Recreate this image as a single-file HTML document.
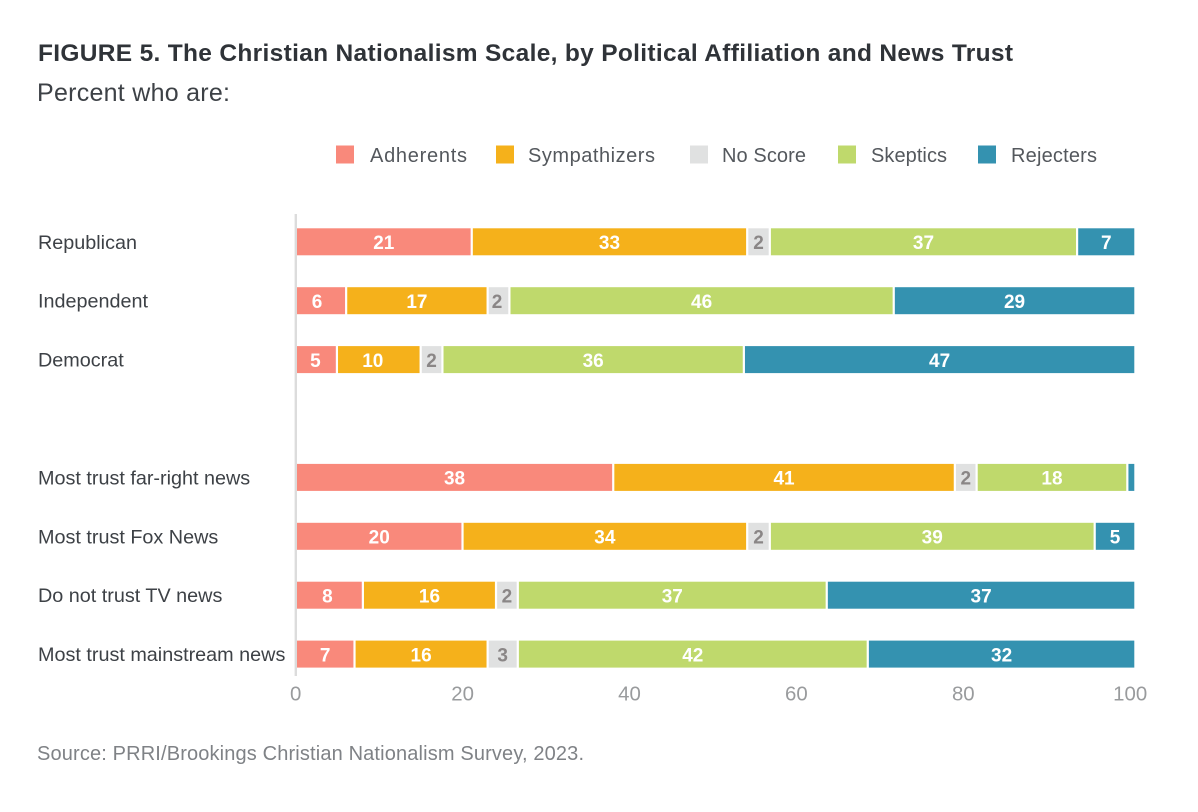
<!DOCTYPE html>
<html lang="en">
<head>
<meta charset="utf-8">
<title>Christian Nationalism Scale</title>
<style>
html,body{margin:0;padding:0;background:#fff;width:1198px;height:812px;overflow:hidden}
svg{display:block;font-family:"Liberation Sans",sans-serif}
.cat{font-size:19.8px;fill:#3d4146}
.leg{font-size:20px;fill:#54585d}
.tick{font-size:20.4px;fill:#999b9d;text-anchor:middle}
.val{font-size:19px;font-weight:bold;text-anchor:middle;fill:#fff}
.val-muted{fill:#8a8686}
</style>
</head>
<body>
<svg id="chart" width="1198" height="812" viewBox="0 0 1198 812">
<rect x="0" y="0" width="1198" height="812" fill="#fff"/>
<text x="38" y="61" font-size="24.5px" font-weight="bold" fill="#2f3338" textLength="975">FIGURE 5. The Christian Nationalism Scale, by Political Affiliation and News Trust</text>
<text x="37" y="101" font-size="25px" fill="#3d4146" textLength="193">Percent who are:</text>
<g id="legend"></g>
<g id="bars"></g>
<rect x="294.6" y="214" width="2.4" height="462" fill="#dcdcdc"/>
<g id="ticks"></g>
<text x="37" y="760" font-size="20px" fill="#7f8286" textLength="547">Source: PRRI/Brookings Christian Nationalism Survey, 2023.</text>
</svg>
<script>
const categories = ["Republican","Independent","Democrat","","Most trust far-right news","Most trust Fox News","Do not trust TV news","Most trust mainstream news"];
const seriesNames = ["Adherents","Sympathizers","No Score","Skeptics","Rejecters"];

// Drawn segment lengths
const adherents = [21.0,6.0,4.9,null,37.9,19.9,8.0,7.0];
const sympathizers = [32.9,16.9,10.0,null,40.8,34.0,15.9,15.9];
const noScore = [2.7,2.6,2.6,null,2.6,2.7,2.6,3.6];
const skeptics = [36.7,45.9,36.0,null,18.0,38.8,36.9,41.8];
const rejecters = [6.7,28.6,46.5,null,0.7,4.6,36.6,31.7];

// Printed value labels
const adherentsLabels = [21,6,5,null,38,20,8,7];
const sympathizersLabels = [33,17,10,null,41,34,16,16];
const noScoreLabels = [2,2,2,null,2,2,2,3];
const skepticsLabels = [37,46,36,null,18,39,37,42];
const rejectersLabels = [7,29,47,null,1,5,37,32];

const tickValues = [0,20,40,60,80,100];

const seriesValues = [adherents,sympathizers,noScore,skeptics,rejecters];
const seriesLabels = [adherentsLabels,sympathizersLabels,noScoreLabels,skepticsLabels,rejectersLabels];
const seriesColors = ["#f9897b","#f5b11b","#e0e1e1","#bfd96c","#3492b0"];
const legendSquareX = [336,496,690,838,978];
const legendTextX = [370,528,722,871,1011];
const legendTextW = [97,127,84,76,86];
const labelNudge = {"1:0":-4,"2:0":-1,"2:1":-6,"6:0":-2,"1:2":-1.5};
const NS = "http://www.w3.org/2000/svg";
const x = v => 297 + v * 8.373;
const xTick = v => 295.7 + v * 8.345;
const y = i => 241.8 + i * 58.9;
const barH = 27, gap = 2.2, minLabel = 2;

function make(tag, parent, attrs, text) {
  const el = document.createElementNS(NS, tag);
  for (const k in attrs) el.setAttribute(k, attrs[k]);
  if (text !== undefined) el.textContent = text;
  parent.appendChild(el);
  return el;
}

const legend = document.getElementById("legend");
seriesNames.forEach((name, s) => {
  const sq = make("rect", legend, {x: legendSquareX[s], y: 145.5, width: 18, height: 18, fill: seriesColors[s]});
  
  
  const t = make("text", legend, {x: legendTextX[s], y: 162, "class": "leg", textLength: legendTextW[s]}, name);
  
  
});

const bars = document.getElementById("bars");
categories.forEach((cat, i) => {
  if (!cat) return;
  const label = make("text", bars, {x: 38, y: y(i) + 7, "class": "cat"}, cat);
  
  
  let cum = 0;
  seriesValues.forEach((vals, s) => {
    const v = vals[i];
    const x0 = x(cum), x1 = x(cum + v);
    const right = s === seriesValues.length - 1 ? x1 : x1 - gap;
    const seg = make("rect", bars, {x: x0, y: y(i) - barH / 2, width: Math.max(right - x0, 0), height: barH, fill: seriesColors[s]});
    
    
    const printed = seriesLabels[s][i];
    if (printed >= minLabel) {
      const nudge = labelNudge[i + ":" + s] || 0;
      const cls = s === 2 ? "val val-muted" : "val";
      const t = make("text", bars, {x: (x0 + right) / 2 + nudge, y: y(i) + 7.3, "class": cls}, printed);
      
      
    }
    cum += v;
  });
});

const ticks = document.getElementById("ticks");
tickValues.forEach(v => {
  const t = make("text", ticks, {x: xTick(v), y: 700.5, "class": "tick"}, v);
  
  
});
</script>
</body>
</html>
